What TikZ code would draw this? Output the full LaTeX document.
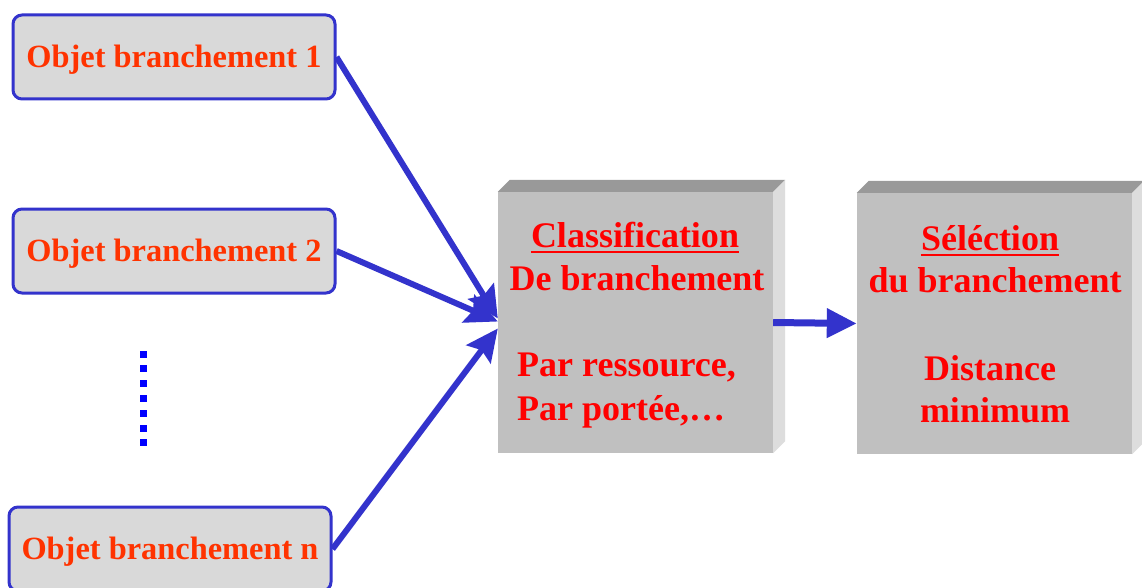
\documentclass[tikz,border=0pt]{standalone}
\usepackage{fontspec}
\setmainfont{Liberation Serif}
\usetikzlibrary{arrows.meta}
\definecolor{edgeblue}{HTML}{3333CC}
\definecolor{dotblue}{HTML}{0000FF}
\definecolor{objfill}{HTML}{D9D9D9}
\definecolor{objtext}{HTML}{FF3300}
\definecolor{blockfront}{HTML}{C0C0C0}
\definecolor{blocktop}{HTML}{999999}
\definecolor{blockside}{HTML}{DDDDDD}
\definecolor{blocktext}{HTML}{FF0000}
\tikzset{
  objbox/.style={rectangle, rounded corners=9pt, draw=edgeblue, line width=3pt,
    fill=objfill, minimum width=322pt, minimum height=84pt, inner sep=0pt,
    text=objtext, font=\fontsize{32.4}{36}\selectfont\bfseries,
    text height=21.4pt, text depth=0pt},
  blockfront/.style={rectangle, fill=blockfront, draw=none,
    minimum width=275pt, minimum height=261pt, inner sep=0pt},
  blocklabel/.style={inner sep=0pt, text=blocktext,
    font=\fontsize{36}{40}\selectfont\bfseries},
  feed/.style={draw=edgeblue, line width=6pt,
    -{Stealth[length=32pt, width=30pt, inset=5pt]}},
  pass/.style={draw=edgeblue, line width=7pt,
    -{Triangle[length=30pt, width=28pt]}},
}
\begin{document}
\begin{tikzpicture}[x=1pt, y=-1pt]
  \useasboundingbox (0,0) rectangle (1142,588);
  \fill[white] (0,0) rectangle (1142,588);

  % input objects
  \node[objbox] (o1) at (174,57)  {Objet branchement 1};
  \node[objbox] (o2) at (174,251) {Objet branchement 2};
  \node[objbox] (on) at (170,549) {Objet branchement n};

  % vertical ellipsis between object 2 and object n
  \foreach \k in {0,...,6}
    \fill[dotblue] (139.5,{350.5+14.8*\k}) rectangle ++(7,7);

  % classification block (front face, top bevel, right side)
  \node[blockfront] (cls) at (635.5,322.5) {};
  \fill[blocktop] (cls.north west) -- ++(12,-12) -- ([shift={(12,-12)}]cls.north east) -- (cls.north east) -- cycle;
  \fill[blockside] (cls.north east) -- ++(12,-12) -- ([shift={(12,-12)}]cls.south east) -- (cls.south east) -- cycle;

  \node[blocklabel, anchor=base] (clsA) at (635,247) {Classification};
  \draw[blocktext, line width=2pt] ([yshift=-5pt]clsA.base west) -- ([yshift=-5pt]clsA.base east);
  \node[blocklabel, anchor=base] (clsB) at (637,290) {De branchement};
  \node[blocklabel, anchor=base west] (clsC) at (517,376) {Par ressource,};
  \node[blocklabel, anchor=base west] (clsD) at (517,420) {Par portée,…};

  % selection block
  \node[blockfront] (sel) at (994.5,323.5) {};
  \fill[blocktop] (sel.north west) -- ++(12,-12) -- ([shift={(12,-12)}]sel.north east) -- (sel.north east) -- cycle;
  \fill[blockside] (sel.north east) -- ++(12,-12) -- ([shift={(12,-12)}]sel.south east) -- (sel.south east) -- cycle;

  \node[blocklabel, anchor=base] (selA) at (990,250) {Séléction};
  \draw[blocktext, line width=2pt] ([yshift=-5pt]selA.base west) -- ([yshift=-5pt]selA.base east);
  \node[blocklabel, anchor=base] (selB) at (995,292) {du branchement};
  \node[blocklabel, anchor=base] (selC) at (990,380) {Distance};
  \node[blocklabel, anchor=base] (selD) at (995,422) {minimum};

  % connectors
  \draw[feed] (o1.east) -- ([yshift=4pt]cls.west);
  \draw[feed] (o2.east) -- ([yshift=1pt]cls.west);
  \draw[feed] (on.east) -- ([yshift=-6pt]cls.west);
  \draw[pass] (cls.east) -- (sel.west);
\end{tikzpicture}
\end{document}
